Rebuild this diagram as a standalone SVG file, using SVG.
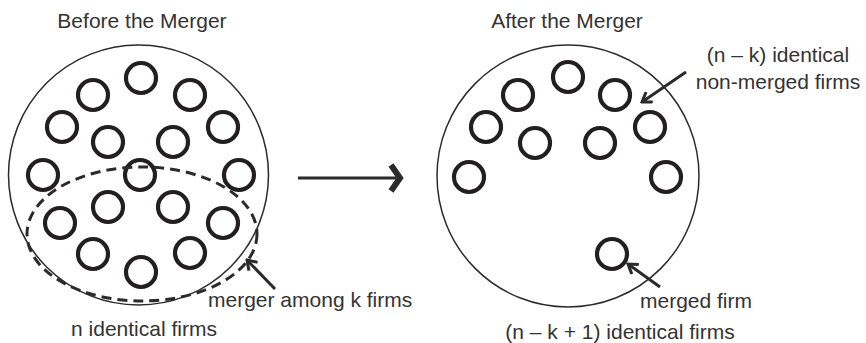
<svg xmlns="http://www.w3.org/2000/svg" width="866" height="343" viewBox="0 0 866 343">
<defs>
<style>
.t{font-family:"Liberation Sans",Arial,sans-serif;font-size:21px;fill:#333}
.big{fill:none;stroke:#2b2b2b;stroke-width:1.5}
.firm{fill:none;stroke:#231f20;stroke-width:4.2}
.dash{fill:none;stroke:#2b2b2b;stroke-width:3;stroke-dasharray:10 6}
.arr{fill:none;stroke:#2b2b2b;stroke-width:3}
</style>
<marker id="ah" viewBox="0 0 14 14" refX="12" refY="7" markerWidth="14" markerHeight="14" markerUnits="userSpaceOnUse" orient="auto">
<path d="M3,1 L12,7 L3,13" fill="none" stroke="#2b2b2b" stroke-width="3"/>
</marker>
</defs>
<g id="before">
<text class="t" x="142" y="28" text-anchor="middle">Before the Merger</text>
<circle class="big" cx="138.5" cy="175" r="130"/>
<circle class="firm" cx="141" cy="78" r="15"/>
<circle class="firm" cx="93" cy="95" r="15"/>
<circle class="firm" cx="190" cy="95" r="15"/>
<circle class="firm" cx="62" cy="127" r="15"/>
<circle class="firm" cx="223" cy="127" r="15"/>
<circle class="firm" cx="108" cy="142" r="15"/>
<circle class="firm" cx="173" cy="142" r="15"/>
<circle class="firm" cx="43" cy="175" r="15"/>
<circle class="firm" cx="140" cy="175" r="15"/>
<circle class="firm" cx="239" cy="175" r="15"/>
<circle class="firm" cx="108" cy="207" r="15"/>
<circle class="firm" cx="173" cy="207" r="15"/>
<circle class="firm" cx="60" cy="223" r="15"/>
<circle class="firm" cx="223" cy="223" r="15"/>
<circle class="firm" cx="93" cy="254" r="15"/>
<circle class="firm" cx="190" cy="253" r="15"/>
<circle class="firm" cx="141" cy="272" r="15"/>
<ellipse class="dash" cx="142" cy="234" rx="115" ry="67"/>
<text class="t" x="144" y="336" text-anchor="middle">n identical firms</text>
<text class="t" x="208" y="307">merger among k firms</text>
</g>
<g id="after">
<text class="t" x="567" y="28" text-anchor="middle">After the Merger</text>
<circle class="big" cx="568" cy="176" r="131"/>
<circle class="firm" cx="568" cy="77" r="15"/>
<circle class="firm" cx="518" cy="95" r="15"/>
<circle class="firm" cx="615" cy="95" r="15"/>
<circle class="firm" cx="486" cy="127" r="15"/>
<circle class="firm" cx="650" cy="127" r="15"/>
<circle class="firm" cx="535" cy="143" r="15"/>
<circle class="firm" cx="600" cy="143" r="15"/>
<circle class="firm" cx="469" cy="177" r="15"/>
<circle class="firm" cx="666" cy="177" r="15"/>
<circle class="firm" cx="612" cy="254" r="15"/>
<text class="t" x="778" y="62" text-anchor="middle">(n – k) identical</text>
<text class="t" x="778" y="89" text-anchor="middle">non-merged firms</text>
<text class="t" x="640" y="308">merged firm</text>
<text class="t" x="620" y="339" text-anchor="middle">(n – k + 1) identical firms</text>
</g>
<g id="connectors">
<line class="arr" x1="298" y1="178" x2="396" y2="178"/>
<polyline points="391,165 400,178 391,191" fill="none" stroke="#2b2b2b" stroke-width="6"/>
<line class="arr" x1="275" y1="289" x2="247" y2="260" marker-end="url(#ah)"/>
<line class="arr" x1="686" y1="72" x2="642" y2="102" marker-end="url(#ah)"/>
<line class="arr" x1="660" y1="287" x2="628" y2="264" marker-end="url(#ah)"/>
</g>
</svg>
